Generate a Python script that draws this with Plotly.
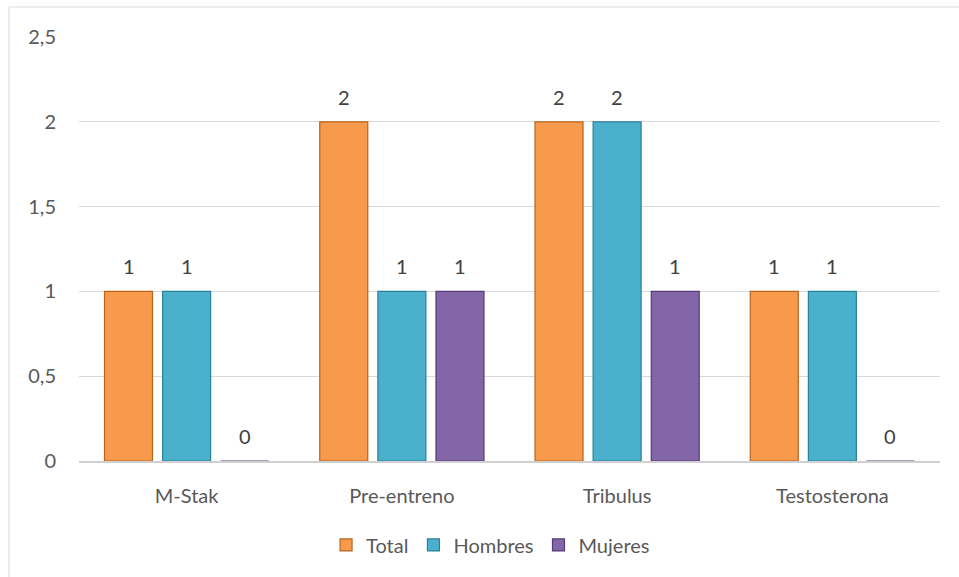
import plotly.graph_objects as go

categories = ["M-Stak", "Pre-entreno", "Tribulus", "Testosterona"]
series_names = ["Total", "Hombres", "Mujeres"]
total = [1, 2, 2, 1]
hombres = [1, 1, 2, 1]
mujeres = [0, 1, 1, 0]
y_ticks = [0, 0.5, 1, 1.5, 2, 2.5]

colors = ["#F89A4C", "#4BB0CB", "#8366A8"]
edges = ["#B8641E", "#2A8099", "#553C78"]

slot = 0.27
bar_w = 0.223
font_family = "Lato, 'Open Sans', sans-serif"
text_color = "#595959"
fs = 20

fig = go.Figure()
annotations = []
for k, (name, vals) in enumerate(zip(series_names, [total, hombres, mujeres])):
    xs = [i + (k - 1) * slot for i in range(len(categories))]
    fig.add_trace(go.Bar(
        x=xs, y=vals, name=name, width=bar_w,
        marker=dict(color=colors[k], line=dict(color=edges[k], width=1.2)),
        hoverinfo="y",
    ))
    for x, v in zip(xs, vals):
        annotations.append(dict(x=x, y=v, xref="x", yref="y", text=str(v),
                                showarrow=False, yshift=25,
                                font=dict(size=fs, color="#404040", family=font_family)))

fig.update_layout(
    width=959, height=577,
    margin=dict(l=79, r=19, t=37, b=116),
    paper_bgcolor="white", plot_bgcolor="white",
    separators=", ",
    barmode="overlay",
    font=dict(family=font_family, size=fs, color=text_color),
    annotations=annotations,
    legend=dict(orientation="h", x=0.478, xanchor="center", y=-0.198, yanchor="middle",
                font=dict(size=fs, color=text_color), itemwidth=30,
                traceorder="normal"),
    showlegend=True,
    shapes=[dict(type="rect", xref="paper", yref="paper", x0=-0.0813, x1=1.2,
                 y0=-0.5, y1=1.0708, line=dict(color="#D9D9D9", width=1),
                 fillcolor="rgba(0,0,0,0)", layer="below")],
)
fig.update_xaxes(range=[-0.5, 3.5], tickvals=list(range(len(categories))), ticktext=categories,
                 showgrid=False, zeroline=False, showline=True, linecolor="#D0D0D0", linewidth=2,
                 ticks="", ticklabelstandoff=16, tickfont=dict(size=fs, color=text_color))
fig.update_yaxes(range=[0, 2.5], tickvals=y_ticks, showgrid=True, gridcolor="#D9D9D9", gridwidth=1,
                 zeroline=False, showline=False, ticks="", ticklabelstandoff=22,
                 tickfont=dict(size=fs, color=text_color))

fig.write_html("out.html")
